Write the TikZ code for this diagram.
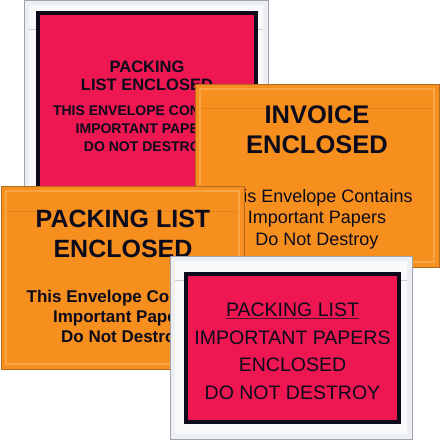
\documentclass[tikz,border=0pt]{standalone}
\usepackage{fontspec}
\setmainfont{Liberation Sans}
\definecolor{tagred}{HTML}{EE1751}
\definecolor{tagorange}{HTML}{F78F1E}
\definecolor{envedge}{HTML}{B5691C}
\definecolor{envrim}{HTML}{F9A546}
\definecolor{envseam}{HTML}{E3841C}
\definecolor{sleevegray}{HTML}{9FA3AF}
\definecolor{sleevefill}{HTML}{EDEFF2}
\definecolor{sleeveinner}{HTML}{F8F9FA}
\definecolor{inkblack}{HTML}{0C0B1C}
\tikzset{
  sleeve/.style   = {draw=sleevegray, line width=0.9pt, fill=sleevefill},
  inner/.style    = {fill=sleeveinner},
  card/.style     = {draw=inkblack, line width=4pt, fill=tagred},
  envelope/.style = {draw=envedge, line width=0.8pt, fill=tagorange},
  rim/.style      = {draw=envrim, line width=1.6pt},
  seam/.style     = {draw=envseam, line width=0.6pt},
  sseam/.style    = {draw=sleevefill!85!black, line width=0.4pt},
  txt/.style      = {anchor=base, inner sep=0pt, text=inkblack},
}
\newcommand{\fs}[1]{\fontsize{#1}{#1}\selectfont}

\begin{document}
\begin{tikzpicture}[x=1pt, y=-1pt]
        \useasboundingbox[fill=white] (0,0) rectangle (440,440);
        % back sleeve with red card
        \draw[sleeve] (24,0) rectangle (268,250);
        \fill[inner] (29,5) rectangle (263,245);
        \draw[sseam] (29,29) -- (263,29);
        \draw[card] (38,13) rectangle (256,236);
        \node[txt, font=\bfseries\fs{16.5}] (a1) at (147,72) {PACKING};
        \node[txt, font=\bfseries\fs{16.5}] (a2) at (147,90) {LIST ENCLOSED};
        \node[txt, font=\bfseries\fs{14}] (a3) at (147,115) {THIS ENVELOPE CONTAINS};
        \node[txt, font=\bfseries\fs{14}] (a4) at (147,133) {IMPORTANT PAPERS};
        \node[txt, font=\bfseries\fs{14}] (a5) at (147,151) {DO NOT DESTROY};
        % invoice envelope
        \draw[envelope] (195,84) rectangle (439,267);
        \draw[rim] (200,89) rectangle (434,262);
        \draw[seam] (201,108) -- (433,108);
        \node[txt, font=\bfseries\fs{25.5}] (b1) at (317,123) {INVOICE};
        \node[txt, font=\bfseries\fs{25.5}] (b2) at (317,153) {ENCLOSED};
        \node[txt, font=\fs{18}] (b3) at (317.5,202) {This Envelope Contains};
        \node[txt, font=\fs{18}] (b4) at (317,223.5) {Important Papers};
        \node[txt, font=\fs{18}] (b5) at (317,245) {Do Not Destroy};
        % packing list envelope
        \draw[envelope] (1,186) rectangle (244,369);
        \draw[rim] (6,191) rectangle (239,364);
        \draw[seam] (7,211) -- (238,211);
        \node[txt, font=\bfseries\fs{25}] (c1) at (123,227) {PACKING LIST};
        \node[txt, font=\bfseries\fs{25}] (c2) at (123,257) {ENCLOSED};
        \node[txt, font=\bfseries\fs{17}] (c3) at (123,302.5) {This Envelope Contains};
        \node[txt, font=\bfseries\fs{17}] (c4) at (123,322.5) {Important Papers};
        \node[txt, font=\bfseries\fs{17}] (c5) at (123,342.5) {Do Not Destroy};
        % front sleeve with red card
        \draw[sleeve] (170,256) rectangle (412,439);
        \fill[inner] (175,261) rectangle (407,434);
        \draw[sseam] (175,280) -- (407,280);
        \draw[card] (186,274) rectangle (399,422);
        \node[txt, font=\fs{19.5}] (d1) at (292.5,316.5) {PACKING LIST};
        \draw[inkblack!70!tagred, line width=0.6pt] ([yshift=-2pt]d1.base west) -- ([yshift=-2pt]d1.base east);
        \node[txt, font=\fs{19.5}] (d2) at (292.5,344) {IMPORTANT PAPERS};
        \node[txt, font=\fs{19.5}] (d3) at (292.5,371.5) {ENCLOSED};
        \node[txt, font=\fs{19.5}] (d4) at (292.5,399) {DO NOT DESTROY};
    \end{tikzpicture}
\end{document}
